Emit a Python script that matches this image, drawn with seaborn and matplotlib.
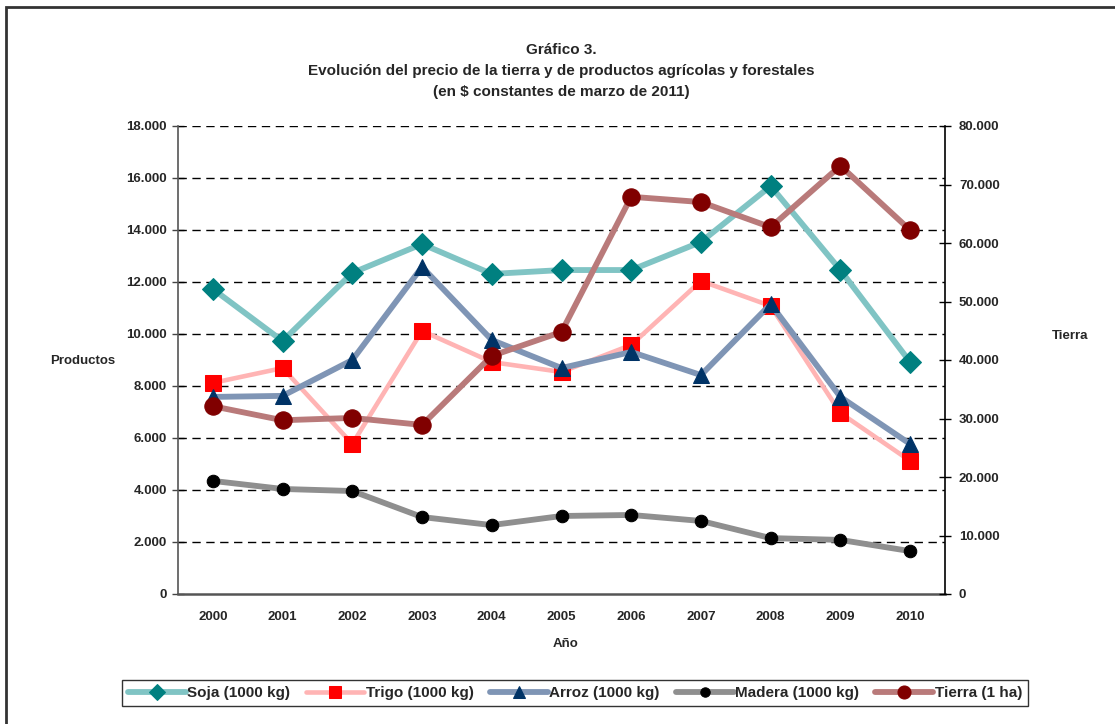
import matplotlib
matplotlib.use("Agg")
import matplotlib.pyplot as plt
import matplotlib.ticker as mticker
from matplotlib.patches import Rectangle
import seaborn as sns
import pandas as pd
import numpy as np

sns.set_theme(style="white")
plt.rcParams['font.family'] = ['Liberation Sans', 'DejaVu Sans']
plt.rcParams['font.weight'] = 'bold'

years = ["2000", "2001", "2002", "2003", "2004", "2005", "2006", "2007", "2008", "2009", "2010"]
soja = [11730, 9730, 12350, 13460, 12310, 12460, 12460, 13540, 15690, 12460, 8920]
trigo = [8120, 8690, 5770, 10120, 8920, 8540, 9580, 12040, 11080, 6960, 5120]
arroz = [7580, 7620, 9000, 12580, 9770, 8690, 9310, 8420, 11150, 7580, 5770]
madera = [4350, 4040, 3960, 2960, 2650, 3000, 3040, 2810, 2150, 2080, 1650]
tierra = [32100, 29700, 30100, 28900, 40700, 44800, 67900, 67000, 62700, 73200, 62200]

left_series = [
    ("Soja (1000 kg)", soja, "#80c4c4", "#008080", "D", 11, 4.2),
    ("Trigo (1000 kg)", trigo, "#ffb4b4", "#ff0000", "s", 11, 3.3),
    ("Arroz (1000 kg)", arroz, "#7f95b5", "#003366", "^", 12, 4.2),
    ("Madera (1000 kg)", madera, "#8f8f8f", "#000000", "o", 9, 4.2),
]
tierra_style = ("Tierra (1 ha)", tierra, "#b97a7a", "#800000", "o", 12.5, 4.2)

fig = plt.figure(figsize=(11.15, 7.24), dpi=100)
ax = fig.add_axes([178/1115, 1 - 594/724, (945-178)/1115, (594-126)/724])
ax2 = ax.twinx()

x = np.arange(len(years))
handles = []
for name, vals, lc, mc, mk, ms, lw in left_series:
    df = pd.DataFrame({"x": x, "y": vals})
    sns.lineplot(data=df, x="x", y="y", ax=ax, color=lc, linewidth=lw,
                 marker=mk, markersize=ms, markerfacecolor=mc, markeredgecolor=mc,
                 label=name, legend=False, zorder=3)
    handles.append(ax.lines[-1])

name, vals, lc, mc, mk, ms, lw = tierra_style
df = pd.DataFrame({"x": x, "y": vals})
sns.lineplot(data=df, x="x", y="y", ax=ax2, color=lc, linewidth=lw,
             marker=mk, markersize=ms, markerfacecolor=mc, markeredgecolor=mc,
             label=name, legend=False, zorder=3)
handles.append(ax2.lines[-1])

# Left axis
ax.set_xlim(-0.5, len(years) - 0.5)
ax.set_ylim(0, 18000)
ax.set_yticks(np.arange(0, 18001, 2000))
fmt = mticker.FuncFormatter(lambda v, p: "0" if v == 0 else f"{int(v):,}".replace(",", "."))
ax.yaxis.set_major_formatter(fmt)
for v in np.arange(2000, 18001, 2000):
    ax.axhline(v, color="black", linestyle=(0, (6, 4)), linewidth=1.0, zorder=1)

ax.set_xticks(x)
ax.set_xticklabels(years)
ax.set_xticks(np.arange(-0.5, len(years), 1.0), minor=True)
ax.tick_params(axis="x", which="major", length=0, pad=12, labelsize=9.5)
ax.tick_params(axis="x", which="minor", length=4, width=1, color="#444444", direction="out")
ax.tick_params(axis="y", which="major", length=8, width=1, color="#444444", direction="inout",
               labelsize=9.5, pad=4)

# Right axis
ax2.set_ylim(0, 80000)
ax2.set_yticks(np.arange(0, 80001, 10000))
ax2.yaxis.set_major_formatter(fmt)
ax2.tick_params(axis="y", which="major", length=8, width=1, color="black", direction="inout",
                labelsize=9.5, pad=6)

for a in (ax, ax2):
    a.spines["top"].set_visible(False)
    a.set_xlabel("")
    a.set_ylabel("")
    for lbl in a.get_xticklabels() + a.get_yticklabels():
        lbl.set_fontweight("bold")
ax.spines["left"].set_color("#555555")
ax.spines["bottom"].set_color("#555555")
ax.spines["left"].set_linewidth(1.2)
ax.spines["bottom"].set_linewidth(1.8)
ax2.spines["right"].set_color("black")
ax2.spines["right"].set_linewidth(1.2)
ax2.spines["left"].set_visible(False)
ax2.spines["bottom"].set_visible(False)
ax.spines["right"].set_visible(False)

# Labels
fig.text(83/1115, 1 - 361/724, "Productos", ha="center", va="center", fontsize=9.5, fontweight="bold")
fig.text(1070/1115, 1 - 336/724, "Tierra", ha="center", va="center", fontsize=9.5, fontweight="bold")
fig.text(566/1115, 1 - 644/724, "Año", ha="center", va="center", fontsize=9.5, fontweight="bold")

fig.text(561/1115, 1 - 50/724, "Gráfico 3.", ha="center", va="center", fontsize=11, fontweight="bold")
fig.text(561/1115, 1 - 71/724, "Evolución del precio de la tierra y de productos agrícolas y forestales",
         ha="center", va="center", fontsize=11, fontweight="bold")
fig.text(561/1115, 1 - 92/724, "(en $ constantes de marzo de 2011)", ha="center", va="center",
         fontsize=11, fontweight="bold")

leg = fig.legend(handles=handles, labels=[s[0] for s in left_series] + [tierra_style[0]],
                 loc="center", bbox_to_anchor=(575/1115, 1 - 693/724), ncol=5,
                 frameon=True, fancybox=False, edgecolor="black", handlelength=3.8,
                 handletextpad=0.1, columnspacing=1.05, borderpad=0.4, markerscale=0.75,
                 prop={"weight": "bold", "size": 11})
leg.get_frame().set_linewidth(1.0)

# Figure border
fig.patches.append(Rectangle((6/1115, -0.2), 1.5, 1.2 - 7/724, transform=fig.transFigure,
                             fill=False, edgecolor="#333333", linewidth=2.0))

fig.savefig("out.png", dpi=100, facecolor="white")
